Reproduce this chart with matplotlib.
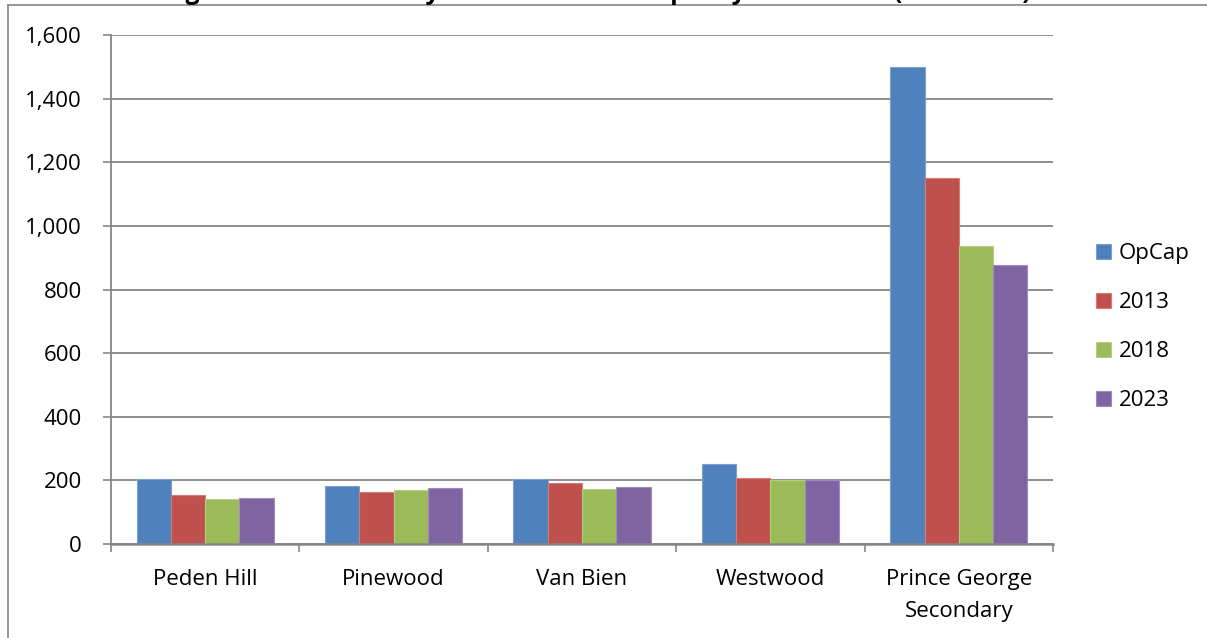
import matplotlib
matplotlib.use("Agg")
import matplotlib.pyplot as plt
import numpy as np
from matplotlib.lines import Line2D
from matplotlib.ticker import FuncFormatter, MultipleLocator

schools = ["Peden Hill", "Pinewood", "Van Bien", "Westwood", "Prince George\nSecondary"]
series_names = ["OpCap", "2013", "2018", "2023"]
opcap = [204, 181, 204, 252, 1500]
y2013 = [153, 165, 192, 206, 1150]
y2018 = [140, 171, 172, 201, 938]
y2023 = [145, 176, 178, 200, 877]
title_text = "Long Term Enrolment by School vs. Total Capacity and Trends (2013-2023)"

colors = ["#4F81BD", "#C0504D", "#9BBB59", "#8064A2"]
edges = ["#7B9FCF", "#D27D7A", "#B5CE84", "#A08BBF"]

W, H = 1207, 638
fig = plt.figure(figsize=(W / 100, H / 100), dpi=100)
plt.rcParams['font.family'] = ['Open Sans', 'DejaVu Sans']

# chart border (clipped by image edge at right and bottom)
gray = "#868686"
fig.add_artist(Line2D([8 / W, 1.0], [1 - 5 / H, 1 - 5 / H], color=gray, lw=1.2))
fig.add_artist(Line2D([8 / W, 8 / W], [0.0, 1 - 5 / H], color=gray, lw=1.2))

# title (cut off at the top of the picture, as in the reference)
fig.text(0.485, 1 + 1 / H, title_text, ha="center", va="baseline",
         fontsize=17.7, fontweight="bold", family=["Open Sans", "DejaVu Sans"])

left, right, top, bottom = 111, 1053, 35, 544
ax = fig.add_axes([left / W, 1 - bottom / H, (right - left) / W, (bottom - top) / H])

x = np.arange(len(schools))
n = len(series_names)
bw = 1 / 5.5
data = [opcap, y2013, y2018, y2023]
for i, (vals, c, ec, name) in enumerate(zip(data, colors, edges, series_names)):
    ax.bar(x + (i - (n - 1) / 2) * bw, vals, width=bw, color=c, edgecolor=ec,
           linewidth=0.8, label=name, zorder=3)

ax.set_ylim(0, 1600)
ax.set_xlim(-0.5, len(schools) - 0.5)
ax.yaxis.set_major_locator(MultipleLocator(200))
ax.yaxis.set_major_formatter(FuncFormatter(lambda v, p: f"{int(v):,}"))
ax.grid(axis="y", color=gray, lw=1.3, zorder=0)
ax.set_axisbelow(True)

for s in ["top", "right"]:
    ax.spines[s].set_visible(False)
ax.spines["left"].set_color(gray)
ax.spines["left"].set_linewidth(1.3)
ax.spines["bottom"].set_color(gray)
ax.spines["bottom"].set_linewidth(1.8)
ax.spines["left"].set_zorder(4)
ax.spines["bottom"].set_zorder(4)

ax.set_xticks(np.arange(-0.5, len(schools), 1.0), minor=False)
ax.set_xticklabels([])
ax.set_xticks(x, minor=True)
ax.set_xticklabels(schools, minor=True, fontsize=16, linespacing=1.7)
ax.tick_params(axis="x", which="major", direction="out", length=6, width=1.2, color=gray)
ax.tick_params(axis="x", which="minor", length=0, pad=18)
ax.tick_params(axis="y", direction="out", length=6, width=1.2, color=gray, pad=15, labelsize=16)

leg = ax.legend(loc="center left", bbox_to_anchor=(1096 / W, 1 - 327 / H),
                bbox_transform=fig.transFigure, frameon=False, fontsize=16,
                handlelength=0.68, handleheight=0.68, handletextpad=0.35,
                labelspacing=1.26, borderpad=0, borderaxespad=0)

fig.savefig("out.png", dpi=100)
